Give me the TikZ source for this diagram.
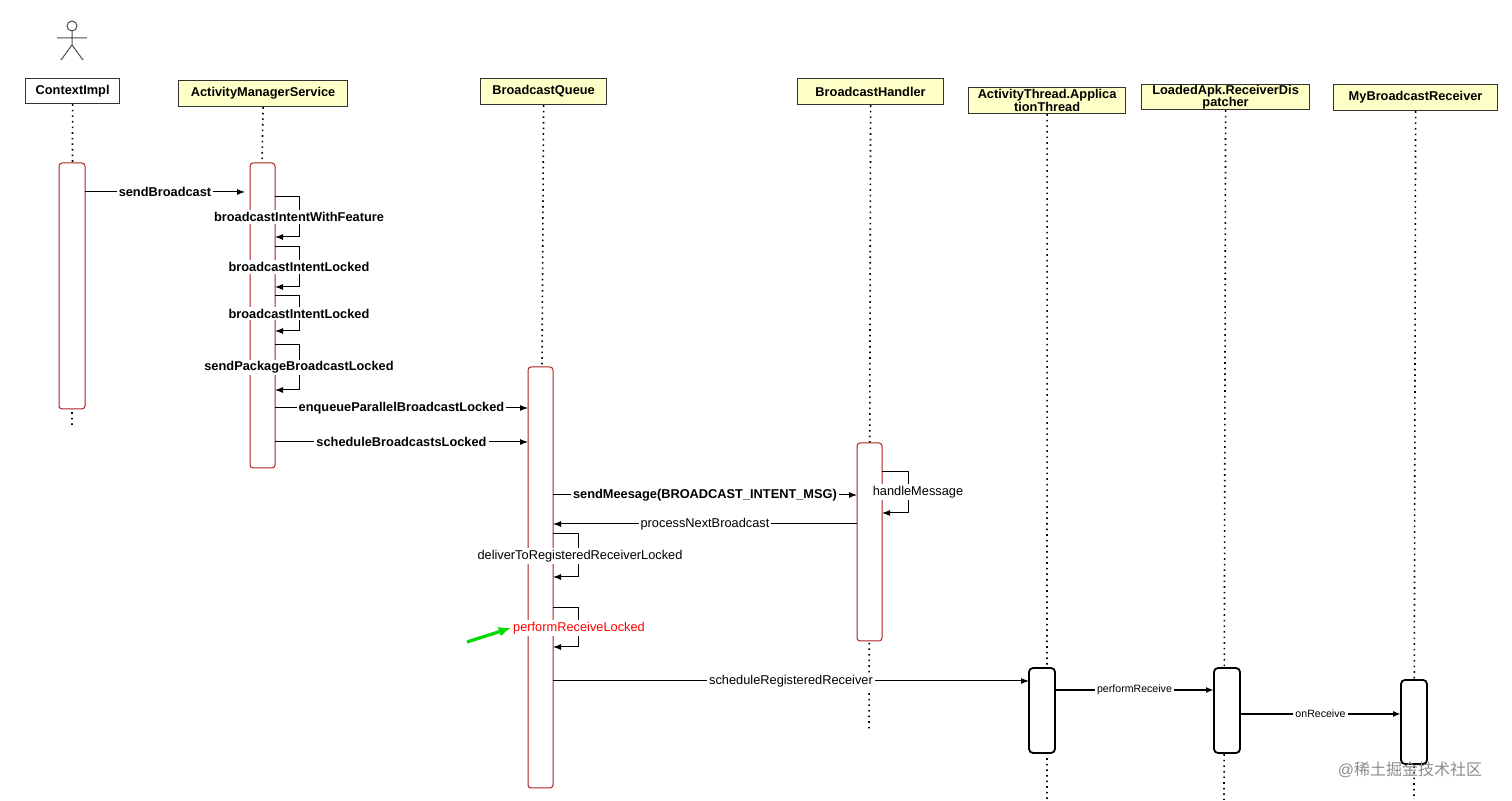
\documentclass[tikz,border=0pt]{standalone}
\usepackage{fontspec}
\setmainfont{Liberation Sans}
\newfontfamily\cjk{Noto Sans CJK SC}
\usetikzlibrary{arrows.meta}
\definecolor{hdr}{HTML}{FFFFC8}
\definecolor{act}{HTML}{B02020}
\begin{document}
\begin{tikzpicture}[x=0.5pt,y=-0.5pt,
  font=\fontsize{6.4}{7}\selectfont,
  head/.style={draw=black!80,line width=0.6pt,fill=hdr,inner sep=0pt,anchor=north west,align=center},
  life/.style={dotted,line width=0.8pt},
  bar/.style={draw=act,line width=0.5pt,rounded corners=1.5pt,fill=white},
  bbar/.style={draw=black,line width=0.9pt,rounded corners=2pt,fill=white},
  msg/.style={line width=0.5pt,-{Latex[length=4pt,width=3pt]}},
  lbl/.style={fill=white,inner sep=1pt},
  blbl/.style={lbl,font=\fontsize{6.4}{7}\selectfont\bfseries}]
\useasboundingbox (0,0) rectangle (1512,801);
% actor
\draw[black!70,line width=0.5pt] (72,26) circle (5) (72,31) -- (72,45) (57,38) -- (87,38) (61,60) -- (72,45) -- (83,60);
% headers
\node[head,fill=white,minimum width=47pt,minimum height=12.5pt] (h1) at (25,78) {\bfseries ContextImpl};
\node[head,minimum width=84.5pt,minimum height=13pt] (h2) at (178,80) {\bfseries ActivityManagerService};
\node[head,minimum width=63pt,minimum height=13pt] (h3) at (480,78) {\bfseries BroadcastQueue};
\node[head,minimum width=73pt,minimum height=13pt] (h4) at (797,78) {\bfseries BroadcastHandler};
\node[head,minimum width=78.5pt,minimum height=13pt,font=\fontsize{6.4}{6.4}\selectfont\bfseries] (h5) at (968,87) {ActivityThread.Applica\\tionThread};
\node[head,minimum width=84pt,minimum height=12.5pt,font=\fontsize{6.4}{6.4}\selectfont\bfseries] (h6) at (1141,84) {LoadedApk.ReceiverDis\\patcher};
\node[head,minimum width=82pt,minimum height=13pt] (h7) at (1333,84) {\bfseries MyBroadcastReceiver};
% lifelines
\coordinate (e1) at (72,428); \coordinate (e4) at (869,732);
\coordinate (e5) at (1047,800); \coordinate (e6) at (1224,800); \coordinate (e7) at (1414,800);
\draw[life] (h1.south) -- (e1);
\draw[life] (h2.south) -- (262,163);
\draw[life] (h3.south) -- (542,367);
\draw[life] (h4.south) -- (e4);
\draw[life] (h5.south) -- (e5);
\draw[life] (h6.south) -- (e6);
\draw[life] (h7.south) -- (e7);
% activations
\draw[bar] (59,163) rectangle (85,409);
\draw[bar] (250,163) rectangle (275,468);
\draw[bar] (528,367) rectangle (553,788);
\draw[bar] (857,443) rectangle (882,641);
\draw[bbar] (1029,668) rectangle (1055,753);
\draw[bbar] (1214,668) rectangle (1240,753);
\draw[bbar] (1401,680) rectangle (1427,764);
% messages
\coordinate (a1) at (85,192); \coordinate (b1) at (245,192);
\draw[msg] (a1) -- node[blbl]{sendBroadcast} (b1);
% self calls on AMS
\foreach \t/\b/\l/\n in {197/237/broadcastIntentWithFeature/s1,247/287/broadcastIntentLocked/s2,296/331/broadcastIntentLocked/s3,345/390/sendPackageBroadcastLocked/s4}{
  \coordinate (\n a) at (275,\t); \coordinate (\n b) at (275,\b);
  \draw[msg] (\n a) -- (299,\t) -- (299,\b) -- (\n b);
  \node[blbl] (\n) at (299,{(\t+\b)/2}) {\l};
}
\coordinate (a2) at (275,408); \coordinate (b2) at (528,408);
\draw[msg] (a2) -- node[blbl]{enqueueParallelBroadcastLocked} (b2);
\coordinate (a3) at (275,442); \coordinate (b3) at (528,442);
\draw[msg] (a3) -- node[blbl]{scheduleBroadcastsLocked} (b3);
\coordinate (a4) at (553,495); \coordinate (b4) at (857,495);
\draw[msg] (a4) -- node[blbl]{sendMeesage(BROADCAST\_INTENT\_MSG)} (b4);
\coordinate (hma) at (882,472); \coordinate (hmb) at (882,513);
\draw[msg] (hma) -- (908,472) -- (908,513) -- (hmb);
\node[lbl] (hm) at (918,492) {handleMessage};
\coordinate (a5) at (857,524); \coordinate (b5) at (553,524);
\draw[msg] (a5) -- node[lbl]{processNextBroadcast} (b5);
\coordinate (dra) at (553,534); \coordinate (drb) at (553,577);
\draw[msg] (dra) -- (578,534) -- (578,577) -- (drb);
\node[lbl] (dr) at (580,556) {deliverToRegisteredReceiverLocked};
\coordinate (pra) at (553,608); \coordinate (prb) at (553,647);
\draw[msg] (pra) -- (578,608) -- (578,647) -- (prb);
\node[lbl,text=red] (pr) at (579,628) {performReceiveLocked};
\coordinate (ga) at (467,642);
\draw[green!80!black!70!green,line width=1.6pt,-{Latex[length=6pt,width=5pt]}] (ga) -- (pr.west);
\coordinate (a6) at (553,681); \coordinate (b6) at (1029,681);
\draw[msg] (a6) -- node[lbl]{scheduleRegisteredReceiver} (b6);
\coordinate (a7) at (1055,690); \coordinate (b7) at (1214,690);
\draw[msg,line width=0.9pt] (a7) -- node[lbl,font=\fontsize{5.3}{6}\selectfont]{performReceive} (b7);
\coordinate (a8) at (1240,714); \coordinate (b8) at (1401,714);
\draw[msg,line width=0.9pt] (a8) -- node[lbl,font=\fontsize{5.3}{6}\selectfont]{onReceive} (b8);
\node[text=black!45,font=\fontsize{8}{9}\selectfont] (wm) at (1410,770) {@{\cjk 稀土掘金技术社区}};
\end{tikzpicture}
\end{document}
